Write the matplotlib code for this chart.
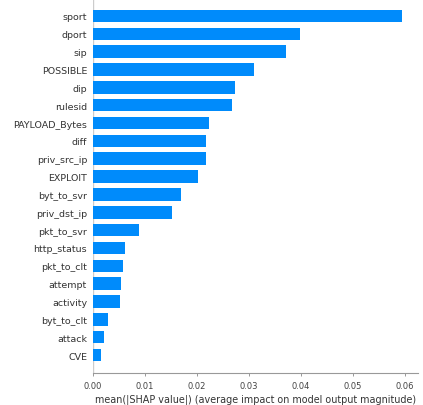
import matplotlib
matplotlib.use("Agg")
import matplotlib.pyplot as plt

# mean(|SHAP value|) per feature, top to bottom
features = ["sport", "dport", "sip", "POSSIBLE", "dip", "rulesid", "PAYLOAD_Bytes",
            "diff", "priv_src_ip", "EXPLOIT", "byt_to_svr", "priv_dst_ip", "pkt_to_svr",
            "http_status", "pkt_to_clt", "attempt", "activity", "byt_to_clt", "attack", "CVE"]
values = [0.0594, 0.0398, 0.0372, 0.0309, 0.0274, 0.0268, 0.0223,
          0.0218, 0.0217, 0.0203, 0.0170, 0.0152, 0.0089,
          0.0062, 0.0058, 0.0054, 0.0053, 0.0029, 0.0022, 0.0017]
xticks = [0.00, 0.01, 0.02, 0.03, 0.04, 0.05, 0.06]

fig = plt.figure(figsize=(4.23, 4.06), dpi=100)
ax = fig.add_axes([0.219, 0.079, 0.768, 0.921])

n = len(features)
ypos = list(range(n - 1, -1, -1))
ax.barh(ypos, values, height=0.7, color="#008bfb", align="center", zorder=2)

ax.axvline(0, color="#cccccc", linewidth=1, zorder=1)
ax.set_yticks(ypos)
ax.set_yticklabels(features, fontsize=6.8, color="#333333")
ax.set_xticks(xticks)
ax.set_xticklabels(["%.2f" % t for t in xticks])
ax.set_xlim(0, 0.0624)
ax.set_ylim(-1, n - 0.05)

ax.spines["right"].set_visible(False)
ax.spines["top"].set_visible(False)
ax.spines["left"].set_visible(False)
ax.spines["bottom"].set_color("#999999")
ax.tick_params("y", length=0, pad=4)
ax.tick_params("x", labelsize=6.0, colors="#888888", labelcolor="#444444", length=2.5, width=0.6)

ax.set_xlabel("mean(|SHAP value|) (average impact on model output magnitude)",
              fontsize=6.9, color="#333333", labelpad=2)

plt.savefig("out.png", dpi=100)
